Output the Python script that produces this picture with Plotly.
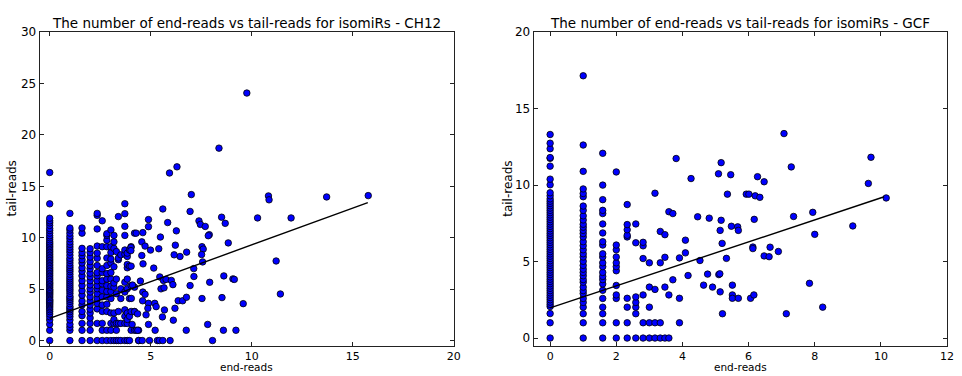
import plotly.graph_objects as go

# ---------------- CH12 panel data (end-reads -> list of tail-reads) ----------------
ch12_columns = {
    0.0: [0, 1, 1.58, 2, 2.32, 2.58, 2.81, 3, 3.17, 3.32, 3.46, 3.58, 3.7, 3.81, 3.91, 4, 4.17,
          4.32, 4.46, 4.58, 4.7, 4.81, 4.91, 5, 5.17, 5.32, 5.46, 5.58, 5.7, 5.86, 6, 6.17, 6.34,
          6.5, 6.66, 6.8, 6.95, 7.1, 7.27, 7.43, 7.6, 7.75, 7.9, 8.05, 8.2, 8.36, 8.52, 8.68,
          8.83, 9.0, 9.15, 9.3, 9.45, 9.6, 9.8, 10.0, 10.2, 10.45, 10.7, 10.9, 11.2, 11.45,
          11.65, 11.9, 13.3, 16.35],
    1.0: [0, 1, 1.3, 1.58, 2, 2.32, 2.58, 2.81, 3, 3.17, 3.32, 3.58, 3.81, 4, 4.17, 4.32, 4.58,
          4.81, 5, 5.2, 5.4, 5.6, 5.8, 6.0, 6.2, 6.45, 6.7, 6.9, 7.1, 7.3, 7.55, 7.8, 8.0, 8.3,
          8.6, 8.85, 9.1, 9.35, 9.6, 9.9, 10.15, 10.45, 10.75, 10.95, 12.37],
    1.6: [0, 1.0, 1.67, 2.42, 2.83, 3.46, 3.84, 4.41, 4.85, 5.35, 5.82, 6.3, 6.74, 7.08, 7.55,
          7.87, 8.25, 8.56, 8.97, 10.45, 10.95],
    2.0: [0, 1.0, 1.67, 2.2, 2.68, 3.05, 3.46, 3.84, 4.25, 4.72, 5.04, 5.41, 5.82, 6.2, 6.55,
          6.99, 7.3, 7.68, 8.12, 8.56, 8.94],
    2.35: [0, 1.67, 3.08, 3.62, 4.09, 4.56, 5.04, 5.35, 5.82, 6.3, 6.61, 7.3, 8.0, 8.5, 9.19,
           10.86, 12.18, 12.37],
    2.6: [0, 1.0, 1.67, 2.83, 3.46, 4.25, 4.88, 5.51, 5.82, 6.61, 6.99, 9.13, 11.65],
    2.83: [0, 1.0, 2.83, 3.53, 4.25, 4.78, 5.35, 5.98, 6.52, 7.3, 8.03, 9.13, 9.76, 10.23, 10.39],
    3.03: [0, 1, 1.67, 2.68, 4.09, 4.78, 5.29, 5.98, 6.61, 7.55, 7.93, 8.56, 9.13, 10.76],
    3.18: [0, 1.67, 2.05, 2.68, 5.19, 5.6, 7.18, 8.97, 9.6, 10.23],
    3.3: [0, 1, 1.67, 4.56, 5.98, 8.66],
    3.4: [0, 1.67, 2.83, 7.87, 8.03, 12.06],
    3.52: [0, 1.67, 4.09, 5.04, 8.34],
    3.72: [0, 1.67, 2.36, 2.99, 4.72, 5.67, 8.4, 8.81, 10.23, 11.11, 12.34, 13.31],
    3.84: [0, 1.67, 2.05, 2.68, 5.04, 5.98, 7.08, 7.4, 8.18, 8.5],
    3.95: [0, 2.36, 4.09, 7.24, 8.81],
    4.03: [1.0, 2.83, 5.35, 7.24, 9.13],
    4.2: [1.0, 2.83, 5.19, 10.45],
    4.4: [0, 1.0],
}
ch12_extra_end = [4.02, 4.02, 4.28, 4.61, 4.56, 4.72, 4.99, 5.4, 6.22, 8.84, 7.54, 7.6, 7.52, 6.78,
                  6.45, 6.16, 4.56, 4.89, 4.89, 5.84, 7.39, 7.46, 7.7, 8.51, 8.69, 6.27, 5.48, 7.9,
                  7.85, 5.6, 6.95, 7.01, 5.93, 6.3, 8.38, 9.76, 7.57, 4.62, 5.15, 7.13, 7.14, 4.49,
                  5.45, 5.63, 5.76, 6.02, 6.1, 5.51, 5.66, 6.95, 7.92, 8.62, 9.07, 4.1, 4.61, 4.72,
                  4.04, 4.6, 4.89, 5.2, 5.27, 4.86, 6.36, 6.58, 6.77, 7.54, 8.53, 6.2, 5.68, 4.2,
                  4.35, 4.77, 5.58, 6.12, 4.08, 4.89, 7.82, 4.28, 4.36, 5.22, 6.76, 8.6, 9.22,
                  4.41, 4.58, 4.94, 5.33, 5.43, 5.6, 5.96, 8.06, 10.83, 10.86, 13.71, 15.77, 10.29,
                  11.95, 11.21, 9.14, 11.42, 9.58]
ch12_extra_tail = [9.06, 8.75, 10.45, 10.5, 9.6, 9.19, 8.8, 8.93, 9.28, 9.5, 9.13, 8.9, 8.37, 8.6,
                   8.18, 8.34, 8.27, 11.77, 11.08, 11.48, 11.64, 11.3, 11.1, 12.0, 11.4, 10.67,
                   10.07, 10.3, 10.2, 12.8, 12.56, 14.2, 16.3, 16.9, 18.72, 24.08, 7.65, 7.46, 7.05,
                   7.0, 6.23, 5.79, 6.19, 5.85, 5.95, 5.85, 5.44, 5.03, 5.13, 5.35, 5.67, 6.29, 6.0,
                   5.4, 4.72, 4.5, 4.1, 3.87, 3.62, 3.62, 3.3, 3.14, 3.87, 3.87, 4.21, 4.09, 4.18,
                   3.14, 2.98, 2.8, 2.6, 2.5, 2.3, 1.98, 1.57, 1.57, 1.57, 1.0, 1.0, 1.0, 1.0, 1.0,
                   1.0, 0, 0, 0, 0, 0, 0, 0, 0, 14.07, 13.69, 13.97, 14.1, 11.93, 11.93, 7.74, 5.95,
                   4.53, 3.59]
ch12_fit_end = [0.0, 15.75]
ch12_fit_tail = [2.15, 13.42]

# ---------------- GCF panel data ----------------
gcf_columns = {
    0.0: [0, 1, 1.6, 2.06, 2.2, 2.35, 2.5, 2.65, 2.8, 2.95, 3.1, 3.25, 3.4, 3.55, 3.7, 3.85, 4.0,
          4.15, 4.3, 4.45, 4.6, 4.75, 4.9, 5.05, 5.2, 5.35, 5.5, 5.65, 5.8, 5.95, 6.1, 6.25, 6.4,
          6.55, 6.7, 6.85, 7.0, 7.15, 7.3, 7.45, 7.6, 7.75, 7.9, 8.05, 8.2, 8.35, 8.5, 8.65, 8.8,
          8.95, 9.1, 9.3, 9.5, 10.02, 10.39, 11.24, 11.75, 11.8, 12.38, 12.74, 13.31],
    1.0: [0, 1.0, 1.59, 2.02, 2.33, 2.59, 2.91, 3.1, 3.33, 3.65, 3.82, 4.07, 4.29, 4.5, 4.75,
          5.02, 5.3, 5.51, 5.77, 6.04, 6.3, 6.61, 6.83, 7.04, 7.25, 7.44, 7.72, 7.99, 8.35, 8.63,
          9.24, 9.45, 9.75, 10.9, 12.62, 17.15],
    1.59: [0, 1.0, 1.59, 2.02, 2.59, 3.12, 3.54, 3.82, 4.03, 4.29, 4.67, 4.92, 5.3, 5.51, 6.08,
           6.3, 6.87, 7.46, 8.14, 8.35, 9.05, 10.0, 12.08],
    2.0: [0, 1.0, 2.59, 2.82, 3.44, 4.4, 4.67, 4.92, 5.3, 5.77, 6.08, 10.86],
    2.33: [0, 1.0, 2.02, 2.6, 6.61, 6.72, 7.08, 7.42, 8.73],
    2.59: [0, 1.59, 2.02, 2.33, 2.69, 6.23, 7.46],
    2.81: [0, 1.0, 2.82, 5.2, 6.03, 6.26],
    3.0: [0, 1.0, 2.02, 3.33, 4.92],
    3.17: [0, 1.0, 3.18, 9.47],
    3.33: [0, 1.0, 4.92, 6.97],
    3.47: [0, 3.33, 5.28, 6.76],
    3.59: [0, 2.82, 8.26],
    3.71: [3.81, 8.14],
    3.91: [1.0, 2.6, 5.24],
}
gcf_extra_end = [3.81, 4.26, 4.09, 4.09, 4.17, 4.46, 4.53, 4.64, 4.76, 4.81, 4.91, 5.1, 5.13,
                 5.14, 5.17, 5.14, 5.2, 5.21, 5.33, 5.36, 5.48, 5.51, 5.51, 5.51, 5.67, 5.69, 5.69,
                 5.93, 6.01, 6.06, 6.16, 6.17, 6.13, 6.13, 6.2, 6.34, 6.47, 6.62, 6.65, 6.9, 6.47,
                 7.14, 7.36, 7.84, 7.94, 8.0, 8.24, 9.15, 9.62, 10.16, 5.09, 5.17, 5.46, 6.27,
                 7.07, 7.29, 9.7]
gcf_extra_tail = [11.74, 10.43, 6.4, 5.57, 4.09, 7.93, 5.07, 3.46, 4.18, 7.84, 3.33, 4.15, 4.2,
                  7.04, 7.7, 3.02, 6.19, 1.59, 5.21, 9.41, 7.31, 3.46, 2.82, 2.6, 7.27, 7.04, 2.6,
                  9.41, 9.41, 2.6, 2.82, 7.76, 5.95, 5.85, 9.3, 9.2, 5.37, 5.32, 5.94, 5.66, 10.22,
                  1.59, 7.95, 3.58, 8.22, 6.78, 2.02, 7.33, 10.11, 9.16, 10.74, 11.47, 10.68, 10.55,
                  13.37, 11.19, 11.82]
gcf_fit_end = [0.0, 10.1]
gcf_fit_tail = [1.97, 9.24]


def flatten(columns, extra_x, extra_y):
    xs, ys = [], []
    for xv, yl in columns.items():
        for yv in yl:
            xs.append(xv)
            ys.append(yv)
    return xs + list(extra_x), ys + list(extra_y)


ch12_x, ch12_y = flatten(ch12_columns, ch12_extra_end, ch12_extra_tail)
gcf_x, gcf_y = flatten(gcf_columns, gcf_extra_end, gcf_extra_tail)

W, H = 962, 376
FONT = "DejaVu Sans"
marker = dict(size=6.5, color="#0000ff", line=dict(color="black", width=0.8))

fig = go.Figure()
fig.add_trace(go.Scatter(x=ch12_x, y=ch12_y, mode="markers", marker=marker,
                         xaxis="x", yaxis="y", showlegend=False))
fig.add_trace(go.Scatter(x=ch12_fit_end, y=ch12_fit_tail, mode="lines",
                         line=dict(color="black", width=1.4), xaxis="x", yaxis="y",
                         showlegend=False))
fig.add_trace(go.Scatter(x=gcf_x, y=gcf_y, mode="markers", marker=marker,
                         xaxis="x2", yaxis="y2", showlegend=False))
fig.add_trace(go.Scatter(x=gcf_fit_end, y=gcf_fit_tail, mode="lines",
                         line=dict(color="black", width=1.4), xaxis="x2", yaxis="y2",
                         showlegend=False))

ydom = [(H - 347) / H, (H - 25.8) / H]
common = dict(showline=True, linecolor="#222222", linewidth=1, mirror="allticks",
              ticks="inside", ticklen=4, tickcolor="#222222", tickwidth=1,
              showgrid=False, zeroline=False,
              tickfont=dict(family=FONT, size=12, color="black"))
xtickfont = dict(family=FONT, size=11, color="black")

fig.update_layout(
    width=W, height=H,
    margin=dict(l=0, r=0, t=0, b=0),
    paper_bgcolor="white", plot_bgcolor="white",
    font=dict(family=FONT, color="black"),
    xaxis=dict(domain=[39.9 / W, 457 / W], range=[-0.5, 20], tickvals=[0, 5, 10, 15, 20],
               anchor="y", ticklabelstandoff=0, **{**common, "tickfont": xtickfont}),
    yaxis=dict(domain=ydom, range=[-0.5, 30], tickvals=[0, 5, 10, 15, 20, 25, 30],
               anchor="x", **common),
    xaxis2=dict(domain=[537.5 / W, 954 / W], range=[-0.5, 12],
                tickvals=[0, 2, 4, 6, 8, 10, 12], anchor="y2", ticklabelstandoff=0,
                **{**common, "tickfont": xtickfont}),
    yaxis2=dict(domain=ydom, range=[-0.5, 20], tickvals=[0, 5, 10, 15, 20],
                anchor="x2", **common),
)

ann = []
for (xc, title) in [((39.9 + 457) / 2, "The number of end-reads vs tail-reads for isomiRs - CH12"),
                    ((537.5 + 954) / 2, "The number of end-reads vs tail-reads for isomiRs - GCF")]:
    ann.append(dict(text=title, x=xc / W, y=1 - 16.5 / H, xref="paper", yref="paper",
                    xanchor="center", yanchor="middle", showarrow=False,
                    font=dict(family=FONT, size=13.5, color="black")))
    ann.append(dict(text="end-reads", x=xc / W, y=0, xref="paper", yref="paper",
                    xanchor="center", yanchor="bottom", showarrow=False, borderpad=0,
                    font=dict(family=FONT, size=10.5, color="black")))
for xp in [12, 511]:
    ann.append(dict(text="tail-reads", x=xp / W, y=1 - 186 / H, xref="paper", yref="paper",
                    xanchor="center", yanchor="middle", showarrow=False, textangle=-90,
                    font=dict(family=FONT, size=12, color="black")))
fig.update_layout(annotations=ann)

fig.write_html("out.html")
